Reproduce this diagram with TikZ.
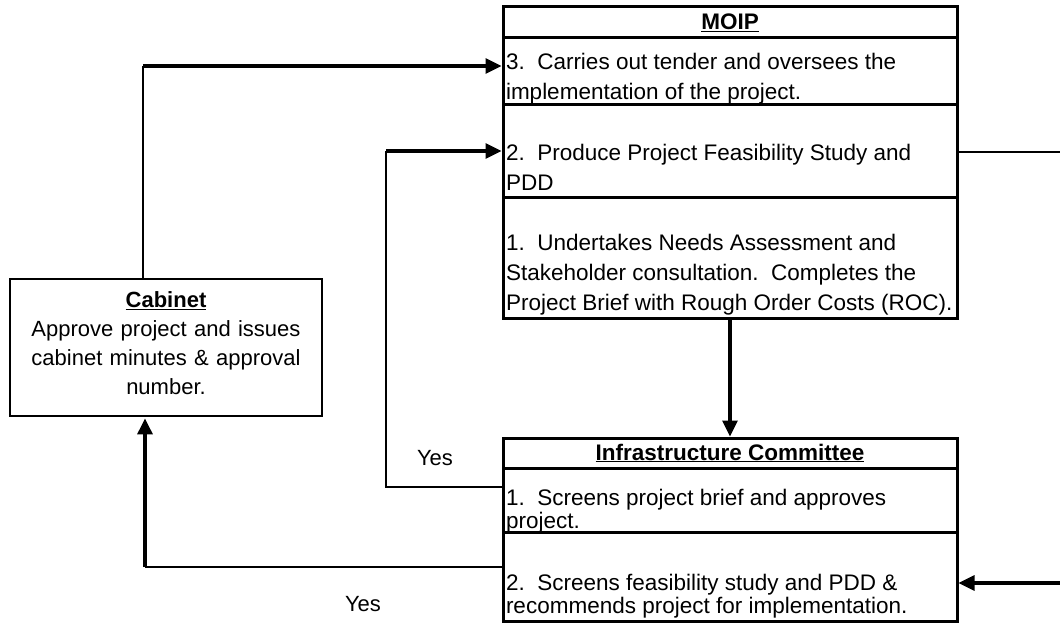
\documentclass[tikz,border=0pt]{standalone}
\usepackage{fontspec}
\setmainfont{Liberation Sans}
\usetikzlibrary{arrows.meta, positioning}

\tikzstyle{box} = [rectangle, draw=black, line width=3pt, outer sep=0pt, inner ysep=0pt, inner xsep=3pt, minimum width=454pt]
\tikzstyle{title} = [box, minimum height=31pt, font=\fontsize{22.5}{26}\selectfont\bfseries]
\tikzstyle{moiprow} = [box, font=\fontsize{22.5}{30}\selectfont]
\tikzstyle{icrow} = [box, font=\fontsize{22.5}{23}\selectfont]
\tikzstyle{cab} = [rectangle, draw=black, line width=1.8pt, minimum width=312pt, minimum height=137pt, text width=300pt, align=center, font=\fontsize{22}{29}\selectfont]
\tikzstyle{arrow} = [line width=3.2pt, -{Triangle[length=16pt,width=15pt]}, shorten >=1.5pt]
\tikzstyle{link} = [line width=1.6pt]

% cell text sits at the bottom of its row
\newcommand{\cell}[3]{\parbox[c][\dimexpr#1-#2\relax][b]{448pt}{\raggedright #3\rule[-#2]{0pt}{0pt}}}

\begin{document}
\begin{tikzpicture}[x=1pt, y=1pt, font=\fontsize{22}{26}\selectfont]
  \useasboundingbox (0,0) rectangle (1060,-623);

  % MOIP
  \node (moiptitle) [title, anchor=north west] at (503,-7) {\underline{MOIP}};
  \node (moip3) [moiprow, below=0pt of moiptitle] {\cell{66pt}{4pt}{3.\ \ Carries out tender and oversees the\\implementation of the project.}};
  \node (moip2) [moiprow, below=0pt of moip3] {\cell{93pt}{7pt}{2.\ \ Produce Project Feasibility Study and\\PDD}};
  \node (moip1) [moiprow, below=0pt of moip2] {\cell{121pt}{8pt}{1.\ \ Undertakes Needs Assessment and\\Stakeholder consultation.\ \ Completes the\\Project Brief with Rough Order Costs (ROC).}};

  % Infrastructure Committee
  \node (ictitle) [title, anchor=north west, minimum height=30pt] at (503,-438) {\underline{Infrastructure Committee}};
  \node (ic1) [icrow, below=0pt of ictitle] {\cell{64pt}{4pt}{1.\ \ Screens project brief and approves\\project.}};
  \node (ic2) [icrow, below=0pt of ic1] {\cell{89pt}{8pt}{2.\ \ Screens feasibility study and PDD \&\\recommends project for implementation.}};

  % Cabinet
  \node (cabinet) [cab] at (166,-347.5) {\textbf{\underline{Cabinet}}\\Approve project and issues\\cabinet minutes \& approval\\number.\strut};

  \node (yes1) at (435,-458) {Yes};
  \node (yes2) at (363,-604) {Yes};

  \coordinate (c1) at (143,-66);
  \coordinate (c2) at (386,-487);
  \coordinate (c3) at (386,-151);
  \coordinate (c4) at (145,-567);
  \coordinate (r1) at (1060,-152);
  \coordinate (r2) at (1060,-583);

  \draw [link] (cabinet.north -| c1) -- (c1);
  \draw [arrow] (c1) -- (c1 -| moip3.west);
  \draw [link] (c2 -| ic1.west) -- (c2) -- (c3);
  \draw [arrow] (c3) -- (c3 -| moip2.west);
  \draw [link] (c4 -| ic2.west) -- (c4);
  \draw [arrow] (c4) -- (c4 |- cabinet.south);
  \draw [arrow] (moip1.south) -- (ictitle.north);
  \draw [link] (moip2.east |- r1) -- (r1);
  \draw [arrow] (r2) -- (r2 -| ic2.east);
\end{tikzpicture}
\end{document}
